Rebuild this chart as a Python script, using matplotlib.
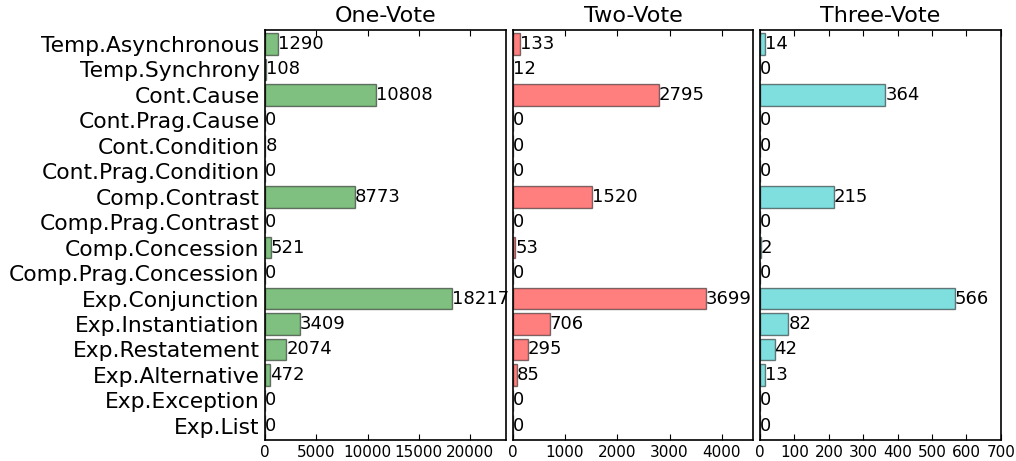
import matplotlib
matplotlib.use("Agg")
import matplotlib.pyplot as plt

relations = ["Temp.Asynchronous", "Temp.Synchrony", "Cont.Cause", "Cont.Prag.Cause",
             "Cont.Condition", "Cont.Prag.Condition", "Comp.Contrast", "Comp.Prag.Contrast",
             "Comp.Concession", "Comp.Prag.Concession", "Exp.Conjunction", "Exp.Instantiation",
             "Exp.Restatement", "Exp.Alternative", "Exp.Exception", "Exp.List"]

one_vote = [1290, 108, 10808, 0, 8, 0, 8773, 0, 521, 0, 18217, 3409, 2074, 472, 0, 0]
two_vote = [133, 12, 2795, 0, 0, 0, 1520, 0, 53, 0, 3699, 706, 295, 85, 0, 0]
three_vote = [14, 0, 364, 0, 0, 0, 215, 0, 2, 0, 566, 82, 42, 13, 0, 0]

titles = ["One-Vote", "Two-Vote", "Three-Vote"]
colors = [(0.0, 0.5, 0.0), (1.0, 0.0, 0.0), (0.0, 0.75, 0.75)]
xlims = [23500, 4600, 700]
xticks = [[0, 5000, 10000, 15000, 20000],
          [0, 1000, 2000, 3000, 4000],
          [0, 100, 200, 300, 400, 500, 600, 700]]

fig, axes = plt.subplots(1, 3, figsize=(10.16, 4.61), dpi=100)
plt.subplots_adjust(left=0.261, right=0.985, top=0.935, bottom=0.046, wspace=0.028)

pos = list(range(len(relations)))
for i, (ax, vals) in enumerate(zip(axes, [one_vote, two_vote, three_vote])):
    ax.barh(pos, vals, height=0.85, color=colors[i], alpha=0.5,
            edgecolor="black", linewidth=1.0)
    for p, v in zip(pos, vals):
        ax.text(v, p, str(v), va="center", ha="left", fontsize=13)
    ax.set_xlim(0, xlims[i])
    ax.set_ylim(15.55, -0.55)
    ax.set_xticks(xticks[i])
    ax.set_title(titles[i], fontsize=16)
    ax.tick_params(axis="x", direction="in", top=True, bottom=True, length=4,
                   labelsize=11, pad=4)
    ax.tick_params(axis="y", left=False, right=False, length=0, pad=4)
    for s in ax.spines.values():
        s.set_linewidth(1.2)
    if i == 0:
        ax.set_yticks(pos)
        ax.set_yticklabels(relations, fontsize=15.7)
    else:
        ax.set_yticks([])

plt.savefig("out.png", dpi=100)
